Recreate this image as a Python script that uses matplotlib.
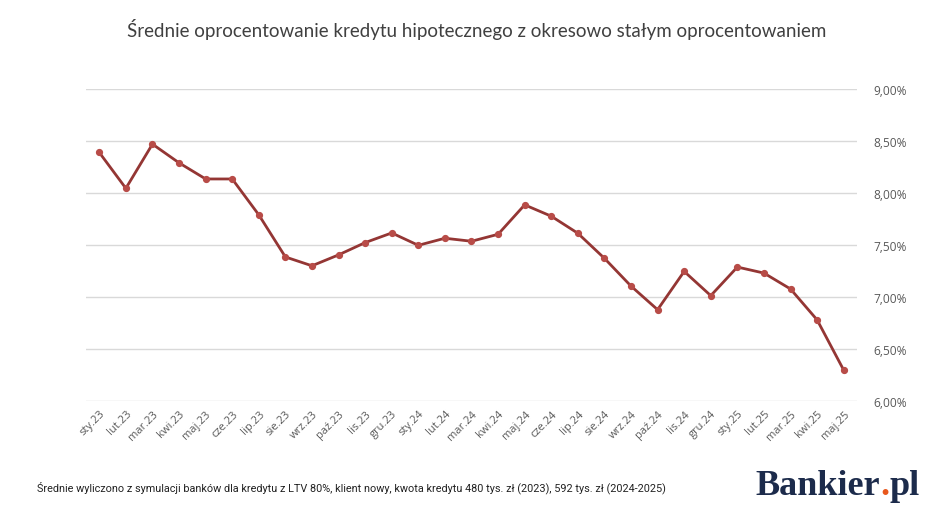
#!/usr/bin/env python3
# -*- coding: utf-8 -*-
"""Średnie oprocentowanie kredytu hipotecznego z okresowo stałym oprocentowaniem."""

import matplotlib
matplotlib.use("Agg")
import matplotlib.pyplot as plt
from matplotlib.ticker import FuncFormatter

months = ["sty", "lut", "mar", "kwi", "maj", "cze", "lip", "sie", "wrz", "paź", "lis", "gru"]
labels = [f"{m}.23" for m in months] + [f"{m}.24" for m in months] + \
         [f"{m}.25" for m in months[:5]]

rates = [8.39, 8.045, 8.47, 8.29, 8.135, 8.135, 7.79, 7.385, 7.30, 7.405, 7.523, 7.616,
         7.497, 7.565, 7.536, 7.603, 7.886, 7.777, 7.613, 7.372, 7.105, 6.878, 7.246, 7.013,
         7.288, 7.23, 7.077, 6.78, 6.297]

title = "Średnie oprocentowanie kredytu hipotecznego z okresowo stałym oprocentowaniem"
note = ("Średnie wyliczono z symulacji banków dla kredytu z LTV 80%, klient nowy, "
        "kwota kredytu 480 tys. zł (2023), 592 tys. zł (2024-2025)")

GREY = "#595959"
LINE = "#943634"
MARK = "#b84c48"
NAVY = "#1c2b4b"
SERIF = ["Liberation Serif", "DejaVu Serif"]

fig = plt.figure(figsize=(9.48, 5.10), dpi=100)
ax = fig.add_axes([0.0907, 0.2118, 0.8133, 0.6117])

x = list(range(len(rates)))
ax.plot(x, rates, color=LINE, linewidth=2.0, marker="o", markersize=4.2,
        markerfacecolor=MARK, markeredgecolor=MARK, zorder=3)

ax.set_xlim(-0.5, len(rates) - 0.5)
ax.set_ylim(6.0, 9.0)
ax.set_yticks([6.0, 6.5, 7.0, 7.5, 8.0, 8.5, 9.0])
ax.yaxis.set_major_formatter(FuncFormatter(lambda v, p: f"{v:.2f}%".replace(".", ",")))
ax.yaxis.tick_right()
ax.grid(axis="y", color="#d9d9d9", linewidth=1.0)
ax.set_axisbelow(True)
for s in ax.spines.values():
    s.set_visible(False)

ax.set_xticks(x)
ax.set_xticklabels(labels, rotation=45, ha="right", rotation_mode="anchor",
                   fontsize=8, color=GREY, family=["Open Sans", "DejaVu Sans"])
ax.tick_params(axis="x", length=0, pad=5)
ax.tick_params(axis="y", length=0, pad=12, labelsize=8.6, labelcolor=GREY)
for t in ax.get_yticklabels():
    t.set_family(["Open Sans", "DejaVu Sans"])

fig.text(0.503, 0.942, title, ha="center", va="center", fontsize=13.5, color="#404040",
         family=["Lato", "DejaVu Sans"])
fig.text(0.039, 0.043, note, ha="left", va="center", fontsize=7.8, color="#222222",
         family=["Liberation Sans Narrow", "Roboto", "DejaVu Sans"])

# logo: "Bankier" + orange dot + "pl"
ly = 0.047
logo = fig.text(0.797, ly, "Bankier", ha="left", va="center", fontsize=26,
                fontweight="bold", color=NAVY, family=SERIF)
fig.canvas.draw()
bb = logo.get_window_extent()
dot = fig.text(bb.x1 / fig.bbox.width, ly, ".", ha="left", va="center", fontsize=26,
               fontweight="bold", color="#e8571c", family=SERIF)
fig.canvas.draw()
db = dot.get_window_extent()
fig.text(db.x1 / fig.bbox.width, ly, "pl", ha="left", va="center", fontsize=26,
         fontweight="bold", color=NAVY, family=SERIF)

plt.savefig("out.png", dpi=100)
